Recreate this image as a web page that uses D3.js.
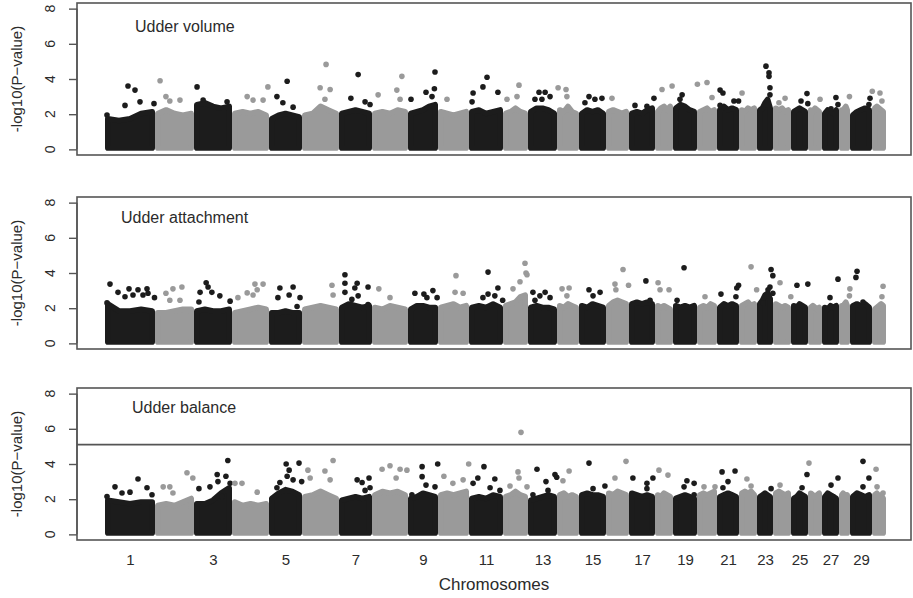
<!DOCTYPE html>
<html>
<head>
<meta charset="utf-8">
<script src="https://cdn.jsdelivr.net/npm/d3@7"></script>
<style>
  body { margin: 0; background: #fff; }
  text { font-family: "Liberation Sans", Arial, Helvetica, sans-serif; fill: #2b2b2b; }
</style>
</head>
<body>
<svg id="chart" width="913" height="598"></svg>
<script>
// Chromosomes and number of markers kept on each after quality control
const chromosomes = d3.range(1, 31);
const snpCounts = [2500, 1950, 1900, 1850, 1650, 1850, 1650, 1800, 1500, 1550,
                   1700, 1250, 1450, 1100, 1350, 1150, 1300, 900, 1200, 1000,
                   1100, 900, 800, 900, 850, 700, 850, 550, 1100, 700];
const xTickLabels = [1, 3, 5, 7, 9, 11, 13, 15, 17, 19, 21, 23, 25, 27, 29];
const yTicks = [0, 2, 4, 6, 8];
const traits = ["Udder volume", "Udder attachment", "Udder balance"];

// Upper edge of the dense cloud of -log10(P) values along each chromosome
const bulkVolume = [
  [1.9, 1.8, 1.9, 2.2, 2.3], [2.2, 2.4, 2.2, 2.1, 2.2], [2.7, 2.8, 2.6, 2.5, 2.6],
  [2.2, 2.3, 2.2, 2.3, 2.1], [1.9, 2.1, 2.2, 2.1, 2.0], [2.1, 2.2, 2.6, 2.4, 2.2],
  [2.2, 2.3, 2.4, 2.3, 2.2], [2.2, 2.3, 2.2, 2.4, 2.3], [2.2, 2.3, 2.4, 2.6, 2.7],
  [2.3, 2.2, 2.1, 2.2, 2.3], [2.3, 2.4, 2.2, 2.3, 2.4], [2.2, 2.3, 2.5, 2.3, 2.2],
  [2.3, 2.5, 2.5, 2.4, 2.2], [2.4, 2.3, 2.6, 2.3, 2.2], [2.2, 2.4, 2.3, 2.4, 2.2],
  [2.3, 2.4, 2.3, 2.2, 2.3], [2.2, 2.3, 2.2, 2.4, 2.5], [2.3, 2.5, 2.6, 2.4, 2.6],
  [2.5, 2.7, 2.6, 2.4, 2.3], [2.3, 2.4, 2.5, 2.3, 2.4], [2.4, 2.6, 2.4, 2.5, 2.4],
  [2.4, 2.3, 2.5, 2.4, 2.5], [2.4, 2.5, 2.8, 3.0, 2.5], [2.5, 2.4, 2.5, 2.3, 2.4],
  [2.3, 2.4, 2.5, 2.4, 2.3], [2.4, 2.3, 2.5, 2.4, 2.3], [2.2, 2.4, 2.3, 2.2, 2.4],
  [2.4, 2.3, 2.5, 2.6, 2.4], [2.1, 2.3, 2.4, 2.5, 2.4], [2.5, 2.6, 2.5, 2.4, 2.3]
];
const bulkAttachment = [
  [2.4, 2.0, 2.0, 2.1, 2.0], [1.9, 1.9, 2.0, 2.1, 2.1], [2.0, 2.1, 2.0, 2.0, 2.1],
  [1.9, 2.0, 2.1, 2.2, 2.1], [1.9, 1.9, 2.0, 1.9, 1.9], [2.1, 2.2, 2.3, 2.2, 2.1],
  [2.2, 2.4, 2.3, 2.2, 2.3], [2.2, 2.1, 2.3, 2.2, 2.1], [2.1, 2.3, 2.3, 2.2, 2.2],
  [2.2, 2.3, 2.4, 2.2, 2.3], [2.2, 2.3, 2.2, 2.4, 2.2], [2.3, 2.4, 2.5, 2.8, 2.9],
  [2.2, 2.3, 2.2, 2.2, 2.1], [2.3, 2.2, 2.4, 2.3, 2.2], [2.3, 2.2, 2.4, 2.3, 2.2],
  [2.3, 2.5, 2.6, 2.5, 2.4], [2.4, 2.5, 2.4, 2.5, 2.4], [2.3, 2.2, 2.3, 2.2, 2.1],
  [2.3, 2.2, 2.3, 2.2, 2.3], [2.2, 2.3, 2.2, 2.4, 2.3], [2.2, 2.4, 2.3, 2.4, 2.3],
  [2.3, 2.4, 2.5, 2.3, 2.4], [2.4, 2.6, 2.9, 3.0, 2.7], [2.4, 2.3, 2.2, 2.3, 2.2],
  [2.3, 2.2, 2.4, 2.3, 2.2], [2.2, 2.3, 2.2, 2.1, 2.2], [2.2, 2.1, 2.3, 2.2, 2.3],
  [2.3, 2.2, 2.4, 2.5, 2.3], [2.3, 2.4, 2.3, 2.4, 2.2], [2.1, 2.2, 2.3, 2.4, 2.3]
];
const bulkBalance = [
  [2.1, 2.0, 1.9, 2.0, 2.0], [1.8, 1.9, 1.8, 2.0, 2.2], [1.9, 1.9, 2.1, 2.5, 2.8],
  [2.0, 1.8, 1.9, 1.8, 1.9], [2.2, 2.5, 2.7, 2.6, 2.4], [2.3, 2.4, 2.6, 2.4, 2.2],
  [2.1, 2.2, 2.3, 2.2, 2.3], [2.4, 2.6, 2.5, 2.6, 2.4], [2.2, 2.3, 2.5, 2.4, 2.3],
  [2.4, 2.5, 2.4, 2.5, 2.6], [2.2, 2.3, 2.2, 2.4, 2.3], [2.3, 2.4, 2.6, 2.4, 2.3],
  [2.1, 2.2, 2.3, 2.4, 2.3], [2.4, 2.5, 2.3, 2.4, 2.3], [2.4, 2.5, 2.4, 2.4, 2.3],
  [2.5, 2.4, 2.6, 2.5, 2.4], [2.5, 2.4, 2.3, 2.4, 2.3], [2.4, 2.3, 2.5, 2.4, 2.3],
  [2.2, 2.3, 2.4, 2.3, 2.2], [2.4, 2.5, 2.4, 2.5, 2.6], [2.3, 2.4, 2.5, 2.4, 2.3],
  [2.5, 2.6, 2.5, 2.6, 2.4], [2.3, 2.4, 2.5, 2.4, 2.3], [2.5, 2.6, 2.5, 2.4, 2.5],
  [2.2, 2.3, 2.5, 2.4, 2.3], [2.5, 2.4, 2.3, 2.4, 2.5], [2.3, 2.5, 2.4, 2.3, 2.2],
  [2.4, 2.5, 2.4, 2.3, 2.4], [2.3, 2.5, 2.4, 2.3, 2.4], [2.4, 2.5, 2.3, 2.4, 2.2]
];

// Individual markers standing above the cloud: [chromosome, relative position, -log10(P)]
const peaksVolume = [
  [1,.46,3.6],[1,.60,3.37],[1,.70,2.7],[1,.40,2.5],[1,.98,2.6],[1,.04,1.95],
  [2,.13,3.9],[2,.28,3.0],[2,.38,2.75],[2,.64,2.8],
  [3,.08,3.55],[3,.24,2.8],[3,.87,2.7],
  [4,.41,3.0],[4,.57,2.8],[4,.84,2.8],[4,.97,3.55],
  [5,.55,3.87],[5,.24,3.0],[5,.42,2.65],[5,.73,2.4],
  [6,.65,4.83],[6,.49,3.5],[6,.76,3.4],[6,.62,2.85],
  [7,.58,4.25],[7,.36,2.9],[7,.79,2.7],[7,.94,2.55],
  [8,.83,4.15],[8,.69,3.37],[8,.17,3.1],[8,.78,2.85],
  [9,.90,4.4],[9,.88,3.45],[9,.60,3.25],[9,.80,3.0],[9,.10,2.85],
  [10,.29,2.85],
  [11,.53,4.1],[11,.41,3.55],[11,.12,3.2],[11,.85,3.25],[11,.09,2.7],
  [12,.64,3.65],[12,.56,3.0],[12,.16,2.85],
  [13,.38,3.25],[13,.59,3.25],[13,.76,3.0],[13,.24,2.85],[13,.48,2.85],
  [14,.05,3.5],[14,.41,3.4],[14,.45,3.0],
  [15,.37,3.0],[15,.59,2.85],[15,.85,2.9],[15,.22,2.65],
  [16,.26,2.9],
  [17,.23,2.5],[17,.69,2.45],[17,.96,2.9],
  [18,.39,3.4],[18,.95,3.6],
  [19,.38,3.1],[19,.29,2.85],
  [20,.02,3.7],[20,.5,3.8],[20,.75,2.95],
  [21,.14,3.37],[21,.27,3.2],[21,.77,2.75],[21,.98,2.75],[21,.14,2.5],
  [22,.17,3.2],
  [23,.56,4.73],[23,.75,4.35],[23,.75,4.15],[23,.81,3.5],[23,.81,3.1],
  [24,.67,2.9],[24,.33,2.65],
  [25,.94,3.17],[25,.59,2.75],[25,.99,2.6],
  [26,.86,2.85],
  [27,.82,2.95],[27,.94,2.55],[27,.53,2.3],
  [28,.95,3.0],
  [29,.91,2.9],[29,.86,2.55],
  [30,.02,3.3],[30,.57,3.2],[30,.71,2.75]
];
const peaksAttachment = [
  [1,.10,3.37],[1,.26,2.9],[1,.48,3.1],[1,.66,3.05],[1,.84,3.1],[1,.40,2.65],[1,.56,2.75],
  [1,.76,2.75],[1,.86,2.85],[1,.99,2.6],[1,.04,2.3],
  [2,.28,2.85],[2,.46,3.1],[2,.69,3.2],[2,.38,2.45],[2,.64,2.45],
  [3,.32,3.45],[3,.37,3.2],[3,.16,2.9],[3,.47,2.9],[3,.68,2.7],[3,.95,2.4],[3,.13,2.35],
  [4,.62,3.37],[4,.84,3.37],[4,.68,3.05],[4,.41,2.87],[4,.57,2.75],[4,.16,2.6],
  [5,.33,3.15],[5,.73,3.2],[5,.61,2.75],[5,.94,2.6],[5,.27,2.6],[5,.85,2.1],
  [6,.81,3.3],[6,.84,2.75],
  [7,.18,3.9],[7,.18,3.42],[7,.55,3.42],[7,.48,3.15],[7,.88,3.2],[7,.18,2.9],[7,.39,2.5],[7,.58,2.7],[7,.88,2.2],
  [8,.19,3.1],[8,.5,2.6],
  [9,.23,2.85],[9,.83,3.0],[9,.53,2.8],[9,.63,2.6],[9,.97,2.6],
  [10,.58,3.85],[10,.55,2.9],[10,.81,2.85],
  [11,.56,4.05],[11,.85,3.15],[11,.56,2.8],[11,.76,2.7],[11,.41,2.6],[11,.99,2.45],
  [12,.88,4.55],[12,.92,4.0],[12,.96,3.9],[12,.68,3.5],[12,.4,3.1],
  [13,.17,2.9],[13,.59,2.9],[13,.41,2.7],[13,.76,2.6],[13,.24,2.45],
  [14,.23,3.1],[14,.55,3.15],[14,.45,2.7],
  [15,.37,3.05],[15,.78,2.9],[15,.52,2.7],
  [16,.74,4.2],[16,.39,3.37],[16,.43,3.05],[16,.98,3.3],
  [17,.65,3.55],[17,.81,2.45],
  [18,.17,3.45],[18,.28,3.05],[18,.78,3.05],
  [19,.46,4.3],[19,.17,2.45],
  [20,.4,2.65],
  [21,.98,3.3],[21,.9,3.15],[21,.18,2.8],[21,.86,2.65],
  [22,.67,4.35],[22,.98,3.05],
  [23,.88,4.2],[23,.99,3.85],[23,.81,3.2],[23,.69,3.05],[23,.99,2.85],[23,.38,2.3],
  [24,.39,3.45],[24,.99,2.65],
  [25,.35,3.3],[25,.99,3.37],
  [27,.94,3.65],[27,.47,2.6],
  [28,.99,3.1],[28,.95,2.7],
  [29,.32,4.1],[29,.27,3.75],[29,.59,2.35],
  [30,.79,3.25],[30,.71,2.65]
];
const peaksBalance = [
  [1,.2,2.7],[1,.34,2.35],[1,.5,2.4],[1,.66,3.15],[1,.84,2.65],[1,.94,2.25],[1,.04,2.15],
  [2,.21,2.7],[2,.38,2.7],[2,.82,3.5],[2,.97,3.2],[2,.46,2.35],
  [3,.89,4.2],[3,.84,3.3],[3,.61,3.4],[3,.13,2.6],[3,.42,2.7],[3,.63,3.0],[3,.95,2.9],[3,.74,2.15],
  [4,.08,2.9],[4,.27,2.9],[4,.68,2.4],
  [5,.52,4.0],[5,.91,4.05],[5,.61,3.65],[5,.55,3.3],[5,.73,3.1],[5,.99,3.0],[5,.33,2.95],[5,.24,2.65],
  [6,.16,3.65],[6,.22,3.2],[6,.62,3.6],[6,.84,4.2],[6,.76,3.1],
  [7,.91,3.2],[7,.7,2.95],[7,.55,3.1],[7,.94,2.65],[7,.79,2.5],
  [8,.28,3.7],[8,.5,3.9],[8,.78,3.7],[8,.97,3.65],[8,.67,3.2],
  [9,.99,4.0],[9,.47,3.85],[9,.47,3.28],[9,.6,2.8],[9,.13,2.25],[9,.9,2.7],
  [10,.99,4.0],[10,.19,3.3],[10,.48,2.9],[10,.81,3.1],
  [11,.44,3.85],[11,.26,3.2],[11,.76,3.15],[11,.12,2.9],[11,.62,2.65],[11,.91,2.5],
  [12,.72,5.8],[12,.6,3.55],[12,.64,3.2],[12,.28,2.75],[12,.96,2.7],
  [13,.31,3.7],[13,.93,3.4],[13,.99,3.25],[13,.62,3.0],[13,.69,2.5],[13,.17,2.25],
  [14,.55,3.6],[14,.27,3.05],
  [15,.37,4.05],[15,.96,2.75],[15,.52,2.6],
  [16,.39,3.2],[16,.87,4.15],
  [17,.15,3.2],[17,.69,2.9],[17,.92,3.2],[17,.69,2.6],
  [18,.22,3.65],[18,.72,3.37],
  [19,.58,3.05],[19,.88,2.9],[19,.46,2.7],[19,.88,2.25],
  [20,.35,2.7],[20,.9,2.7],
  [21,.23,3.55],[21,.82,3.6],[21,.5,3.0],[21,.27,2.65],
  [22,.44,3.15],[22,.67,2.75],
  [23,.88,2.6],
  [24,.39,2.8],
  [25,.94,3.4],[25,.65,2.65],
  [26,.07,4.05],
  [27,.94,3.2],[27,.53,2.8],[27,.65,2.15],
  [29,.59,4.15],[29,.86,3.2],[29,.59,2.7],
  [30,.29,3.7],[30,.36,2.7],[30,.79,2.35]
];
// Genome-wide significance line drawn on the balance panel
const balanceThreshold = 5.1;

const panels = [
  { title: traits[0], bulk: bulkVolume, peaks: peaksVolume, top: 3, bottom: 155, threshold: null, titleX: 135, titleY: 32 },
  { title: traits[1], bulk: bulkAttachment, peaks: peaksAttachment, top: 197, bottom: 349, threshold: null, titleX: 121, titleY: 223 },
  { title: traits[2], bulk: bulkBalance, peaks: peaksBalance, top: 388, bottom: 540, threshold: balanceThreshold, titleX: 132, titleY: 413 }
];

const colors = ["#1c1c1c", "#9a9a9a"];
const frameColor = "#555";
const dotR = 2.8;
const boxLeft = 77, boxRight = 911;

const svg = d3.select("#chart");
const starts = snpCounts.map((_, i) => d3.sum(snpCounts.slice(0, i)));
const x = d3.scaleLinear().domain([0, d3.sum(snpCounts)]).range([105, 886]);

panels.forEach((p, pi) => {
  const y = d3.scaleLinear().domain([-0.32, 8.32]).range([p.bottom, p.top]);
  const g = svg.append("g");

  chromosomes.forEach((c, i) => {
    const color = colors[i % 2];
    const prof = p.bulk[i];
    const x0 = x(starts[i]) + dotR, x1 = x(starts[i] + snpCounts[i]) - dotR;
    const pts = prof.map((v, k) => [x0 + (x1 - x0) * k / (prof.length - 1), v]);
    // the outline stroke stands in for the dot radius, so the edge is pulled in by it
    const area = d3.area().x(d => d[0]).y0(y(0) - dotR / 2).y1(d => y(d[1]) + dotR);
    g.append("path")
      .attr("d", area(pts))
      .attr("fill", color)
      .attr("stroke", color)
      .attr("stroke-width", dotR * 2)
      .attr("stroke-linejoin", "round");
    g.selectAll(null)
      .data(p.peaks.filter(d => d[0] === c))
      .join("circle")
      .attr("cx", d => x(starts[i] + d[1] * snpCounts[i]))
      .attr("cy", d => y(d[2]))
      .attr("r", dotR)
      .attr("fill", color);
  });

  // frame
  svg.append("rect")
    .attr("x", boxLeft).attr("y", p.top)
    .attr("width", boxRight - boxLeft).attr("height", p.bottom - p.top)
    .attr("fill", "none").attr("stroke", frameColor).attr("stroke-width", 1.6);

  if (p.threshold !== null) {
    svg.append("line")
      .attr("x1", boxLeft).attr("x2", boxRight)
      .attr("y1", y(p.threshold)).attr("y2", y(p.threshold))
      .attr("stroke", frameColor).attr("stroke-width", 1.6);
  }

  // y axis: line and ticks from d3, labels set parallel to the axis
  const yAxis = svg.append("g")
    .attr("transform", `translate(${boxLeft},0)`)
    .call(d3.axisLeft(y).tickValues(yTicks).tickSize(8).tickSizeOuter(0).tickFormat(""));
  yAxis.select(".domain").attr("d", `M0,${y(0)}V${y(8)}`).attr("stroke", frameColor).attr("stroke-width", 1.4);
  yAxis.selectAll(".tick line").attr("stroke", frameColor).attr("stroke-width", 1.4);
  yAxis.selectAll(".tick text").remove();

  svg.append("g").selectAll("text")
    .data(yTicks)
    .join("text")
    .attr("transform", d => `translate(${boxLeft - 22},${y(d)}) rotate(-90)`)
    .attr("text-anchor", "middle")
    .style("font-size", "14px")
    .text(d => d);

  svg.append("text")
    .attr("transform", `translate(22,${(p.top + p.bottom) / 2}) rotate(-90)`)
    .attr("text-anchor", "middle")
    .style("font-size", "15px")
    .text("-log10(P\u2212value)");

  svg.append("text")
    .attr("x", p.titleX).attr("y", p.titleY)
    .style("font-size", "16px")
    .text(p.title);

  if (pi === panels.length - 1) {
    const mids = new Map(chromosomes.map((c, i) => [c, starts[i] + snpCounts[i] / 2]));
    const xAxis = svg.append("g")
      .attr("transform", `translate(0,${p.bottom})`)
      .call(d3.axisBottom(x).tickValues(xTickLabels.map(c => mids.get(c)))
        .tickSize(0).tickPadding(14)
        .tickFormat((d, k) => xTickLabels[k]));
    xAxis.select(".domain").remove();
    xAxis.selectAll(".tick text")
      .style("font-size", "15px")
      .style("font-family", "'Liberation Sans', Arial, sans-serif")
      .attr("fill", "#2b2b2b");

    svg.append("text")
      .attr("x", (boxLeft + boxRight) / 2).attr("y", 590)
      .attr("text-anchor", "middle")
      .style("font-size", "17px")
      .text("Chromosomes");
  }
});
</script>
</body>
</html>
